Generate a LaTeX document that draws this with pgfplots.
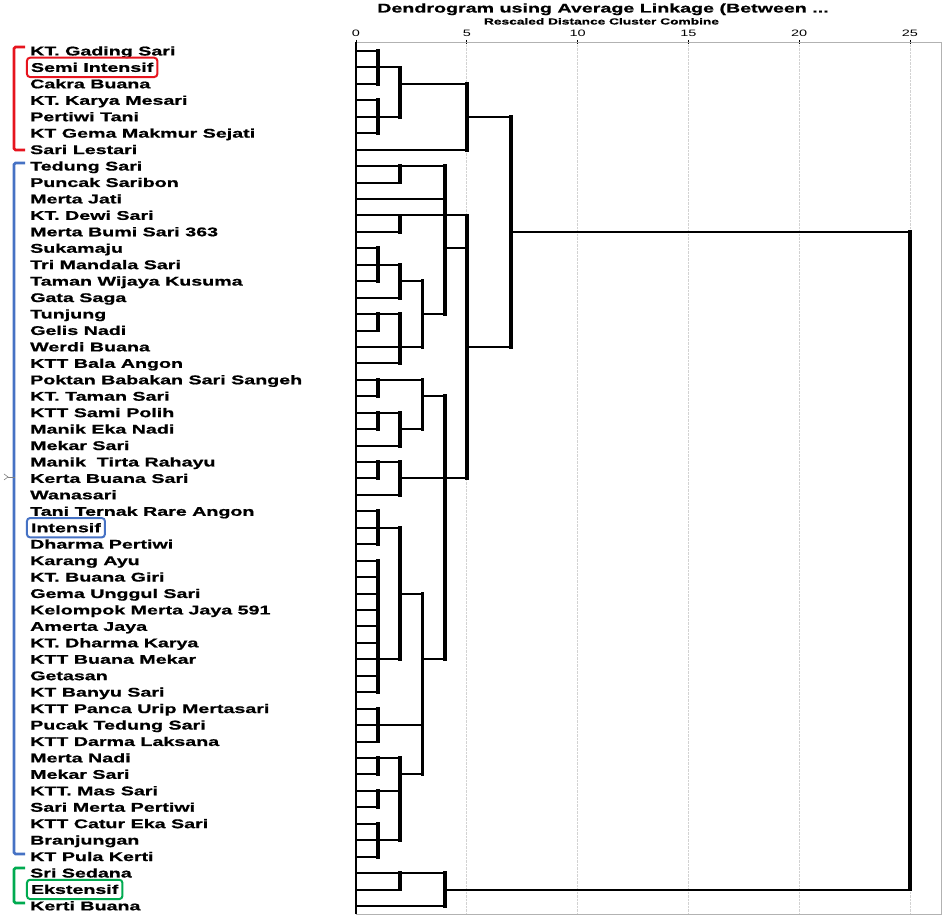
\documentclass[border=0pt]{standalone}
\usepackage{fontspec}
\setmainfont{Liberation Sans}
\newfontfamily\widefont{Liberation Sans}[FakeStretch=1.56, BoldFeatures={FakeBold=0.9}]
\usepackage{pgfplots}
\pgfplotsset{compat=1.18}
\definecolor{brRed}{RGB}{230,20,30}
\definecolor{brBlue}{RGB}{70,114,196}
\definecolor{brGreen}{RGB}{0,170,80}

\begin{document}
\begin{tikzpicture}[x=1pt,y=1pt,
  lbl/.style={anchor=base west, xshift=-326pt, yshift=-4.4pt, inner sep=0pt,
     font=\fontsize{12.6}{14}\widefont\bfseries},
  boxlbl/.style={anchor=base west, xshift=-330pt, yshift=-4.4pt, inner xsep=4pt, inner ysep=5pt,
     rounded corners=3pt, line width=2pt, font=\fontsize{12.6}{14}\widefont\bfseries}]
\path[use as bounding box] (0,0) rectangle (951,920);
\begin{axis}[
  at={(356pt,878pt)}, anchor=north west,
  scale only axis, width=585pt, height=872pt,
  xmin=0, xmax=26.4, ymin=0.45, ymax=53.49, y dir=reverse,
  xtick={0,5,10,15,20,25}, ytick=\empty,
  xtick pos=right, xticklabel pos=right,
  tick align=center, major tick length=4pt,
  tick style={black, line width=0.6pt},
  /pgf/number format/assume math mode=true,
  xticklabel style={font=\widefont\fontsize{9.3}{11}\selectfont, anchor=base, yshift=3pt},
  xmajorgrids, grid style={densely dotted, gray!35, line width=0.9pt},
  axis line style={gray!60, line width=0.8pt},
  unbounded coords=jump,
  clip=false,
]
% horizontal links (distance from, row) -- (distance to, row)
\addplot[no markers, black, line width=2pt, line cap=butt] coordinates {
(0,1)(1,1)(nan,nan) (0,2)(1,2)(nan,nan) (0,3)(1,3)(nan,nan) (0,4)(1,4)(nan,nan)
(0,5)(1,5)(nan,nan) (0,6)(1,6)(nan,nan) (0,7)(5,7)(nan,nan) (0,8)(2,8)(nan,nan)
(0,9)(2,9)(nan,nan) (0,10)(4,10)(nan,nan) (0,11)(2,11)(nan,nan) (0,12)(2,12)(nan,nan)
(0,13)(1,13)(nan,nan) (0,14)(1,14)(nan,nan) (0,15)(1,15)(nan,nan) (0,16)(2,16)(nan,nan)
(0,17)(1,17)(nan,nan) (0,18)(1,18)(nan,nan) (0,19)(2,19)(nan,nan) (0,20)(2,20)(nan,nan)
(0,21)(1,21)(nan,nan) (0,22)(1,22)(nan,nan) (0,23)(1,23)(nan,nan) (0,24)(1,24)(nan,nan)
(0,25)(2,25)(nan,nan) (0,26)(1,26)(nan,nan) (0,27)(1,27)(nan,nan) (0,28)(2,28)(nan,nan)
(0,29)(1,29)(nan,nan) (0,30)(1,30)(nan,nan) (0,31)(1,31)(nan,nan) (0,32)(1,32)(nan,nan)
(0,33)(1,33)(nan,nan) (0,34)(1,34)(nan,nan) (0,35)(1,35)(nan,nan) (0,36)(1,36)(nan,nan)
(0,37)(1,37)(nan,nan) (0,38)(1,38)(nan,nan) (0,39)(1,39)(nan,nan) (0,40)(1,40)(nan,nan)
(0,41)(1,41)(nan,nan) (0,42)(1,42)(nan,nan) (0,43)(1,43)(nan,nan) (0,44)(1,44)(nan,nan)
(0,45)(1,45)(nan,nan) (0,46)(1,46)(nan,nan) (0,47)(1,47)(nan,nan) (0,48)(1,48)(nan,nan)
(0,49)(1,49)(nan,nan) (0,50)(1,50)(nan,nan) (0,51)(2,51)(nan,nan) (0,52)(2,52)(nan,nan)
(0,53)(4,53)(nan,nan)
(1,2)(2,2)(nan,nan) (1,5)(2,5)(nan,nan) (2,3)(5,3)(nan,nan) (5,5)(7,5)(nan,nan)
(2,8)(4,8)(nan,nan) (1,14)(2,14)(nan,nan) (1,17)(2,17)(nan,nan) (2,15)(3,15)(nan,nan)
(2,19)(3,19)(nan,nan) (3,17)(4,17)(nan,nan) (1,21)(3,21)(nan,nan) (1,23)(2,23)(nan,nan)
(2,24)(3,24)(nan,nan) (1,26)(2,26)(nan,nan) (1,30)(2,30)(nan,nan) (1,38)(2,38)(nan,nan)
(1,44)(2,44)(nan,nan) (1,46)(2,46)(nan,nan) (1,49)(2,49)(nan,nan) (2,34)(3,34)(nan,nan)
(1,42)(3,42)(nan,nan) (2,45)(3,45)(nan,nan) (3,22)(4,22)(nan,nan) (2,27)(4,27)(nan,nan)
(3,38)(4,38)(nan,nan) (2,11)(5,11)(nan,nan) (4,13)(5,13)(nan,nan) (4,27)(5,27)(nan,nan)
(5,19)(7,19)(nan,nan) (7,12)(25,12)(nan,nan) (4,52)(25,52)(nan,nan) (2,51)(4,51)
};
% vertical joins (distance, first row) -- (distance, last row)
\addplot[no markers, black, line width=3.8pt, line cap=rect] coordinates {
(1,1)(1,3)(nan,nan) (1,4)(1,6)(nan,nan) (2,2)(2,5)(nan,nan) (5,3)(5,7)(nan,nan)
(2,8)(2,9)(nan,nan) (2,11)(2,12)(nan,nan) (1,13)(1,15)(nan,nan) (2,14)(2,16)(nan,nan)
(1,17)(1,18)(nan,nan) (2,17)(2,20)(nan,nan) (3,15)(3,19)(nan,nan) (4,8)(4,17)(nan,nan)
(1,21)(1,22)(nan,nan) (1,23)(1,24)(nan,nan) (2,23)(2,25)(nan,nan) (3,21)(3,24)(nan,nan)
(1,26)(1,27)(nan,nan) (2,26)(2,28)(nan,nan) (1,29)(1,31)(nan,nan) (1,32)(1,40)(nan,nan)
(2,30)(2,38)(nan,nan) (1,41)(1,43)(nan,nan) (1,44)(1,45)(nan,nan) (1,46)(1,47)(nan,nan)
(1,48)(1,50)(nan,nan) (2,44)(2,49)(nan,nan) (3,34)(3,45)(nan,nan) (4,22)(4,38)(nan,nan)
(5,11)(5,27)(nan,nan) (7,5)(7,19)(nan,nan) (2,51)(2,52)(nan,nan) (4,51)(4,53)(nan,nan)
(25,12)(25,52)
};
\draw[black, line width=1.4pt] (rel axis cs:0,0) -- (rel axis cs:0,1);

\node[lbl] at (axis cs:0,1) {KT. Gading Sari};
\node[boxlbl, draw=brRed] at (axis cs:0,2) {Semi Intensif};
\node[lbl] at (axis cs:0,3) {Cakra Buana};
\node[lbl] at (axis cs:0,4) {KT. Karya Mesari};
\node[lbl] at (axis cs:0,5) {Pertiwi Tani};
\node[lbl] at (axis cs:0,6) {KT Gema Makmur Sejati};
\node[lbl] at (axis cs:0,7) {Sari Lestari};
\node[lbl] at (axis cs:0,8) {Tedung Sari};
\node[lbl] at (axis cs:0,9) {Puncak Saribon};
\node[lbl] at (axis cs:0,10) {Merta Jati};
\node[lbl] at (axis cs:0,11) {KT. Dewi Sari};
\node[lbl] at (axis cs:0,12) {Merta Bumi Sari 363};
\node[lbl] at (axis cs:0,13) {Sukamaju};
\node[lbl] at (axis cs:0,14) {Tri Mandala Sari};
\node[lbl] at (axis cs:0,15) {Taman Wijaya Kusuma};
\node[lbl] at (axis cs:0,16) {Gata Saga};
\node[lbl] at (axis cs:0,17) {Tunjung};
\node[lbl] at (axis cs:0,18) {Gelis Nadi};
\node[lbl] at (axis cs:0,19) {Werdi Buana};
\node[lbl] at (axis cs:0,20) {KTT Bala Angon};
\node[lbl] at (axis cs:0,21) {Poktan Babakan Sari Sangeh};
\node[lbl] at (axis cs:0,22) {KT. Taman Sari};
\node[lbl] at (axis cs:0,23) {KTT Sami Polih};
\node[lbl] at (axis cs:0,24) {Manik Eka Nadi};
\node[lbl] at (axis cs:0,25) {Mekar Sari};
\node[lbl] at (axis cs:0,26) {Manik\ \ Tirta Rahayu};
\node[lbl] at (axis cs:0,27) {Kerta Buana Sari};
\node[lbl] at (axis cs:0,28) {Wanasari};
\node[lbl] at (axis cs:0,29) {Tani Ternak Rare Angon};
\node[boxlbl, draw=brBlue] at (axis cs:0,30) {Intensif};
\node[lbl] at (axis cs:0,31) {Dharma Pertiwi};
\node[lbl] at (axis cs:0,32) {Karang Ayu};
\node[lbl] at (axis cs:0,33) {KT. Buana Giri};
\node[lbl] at (axis cs:0,34) {Gema Unggul Sari};
\node[lbl] at (axis cs:0,35) {Kelompok Merta Jaya 591};
\node[lbl] at (axis cs:0,36) {Amerta Jaya};
\node[lbl] at (axis cs:0,37) {KT. Dharma Karya};
\node[lbl] at (axis cs:0,38) {KTT Buana Mekar};
\node[lbl] at (axis cs:0,39) {Getasan};
\node[lbl] at (axis cs:0,40) {KT Banyu Sari};
\node[lbl] at (axis cs:0,41) {KTT Panca Urip Mertasari};
\node[lbl] at (axis cs:0,42) {Pucak Tedung Sari};
\node[lbl] at (axis cs:0,43) {KTT Darma Laksana};
\node[lbl] at (axis cs:0,44) {Merta Nadi};
\node[lbl] at (axis cs:0,45) {Mekar Sari};
\node[lbl] at (axis cs:0,46) {KTT. Mas Sari};
\node[lbl] at (axis cs:0,47) {Sari Merta Pertiwi};
\node[lbl] at (axis cs:0,48) {KTT Catur Eka Sari};
\node[lbl] at (axis cs:0,49) {Branjungan};
\node[lbl] at (axis cs:0,50) {KT Pula Kerti};
\node[lbl] at (axis cs:0,51) {Sri Sedana};
\node[boxlbl, draw=brGreen] at (axis cs:0,52) {Ekstensif};
\node[lbl] at (axis cs:0,53) {Kerti Buana};
\end{axis}

% titles
\node[anchor=base, inner sep=0pt, font=\fontsize{12.6}{14}\widefont\bfseries] at (603,907.5) {Dendrogram using Average Linkage (Between ...};
\node[anchor=base, inner sep=0pt, font=\fontsize{8.8}{10}\widefont\bfseries] at (601.5,895.5) {Rescaled Distance Cluster Combine};

% group brackets
\draw[brRed, line width=2.6pt, rounded corners=1.5pt] (25,873) -- (14,873) -- (14,770) -- (25,770);
\draw[brBlue, line width=2.6pt, rounded corners=1.5pt] (25,757) -- (14,757) -- (14,66) -- (25,66);
\draw[brGreen, line width=2.6pt, rounded corners=1.5pt] (25,52) -- (14,52) -- (14,17) -- (25,17);
\draw[gray, line width=0.6pt] (4,446) -- (8,443) -- (4,440);
\draw[gray, line width=0.6pt] (8,443) -- (15,443);
\end{tikzpicture}
\end{document}
